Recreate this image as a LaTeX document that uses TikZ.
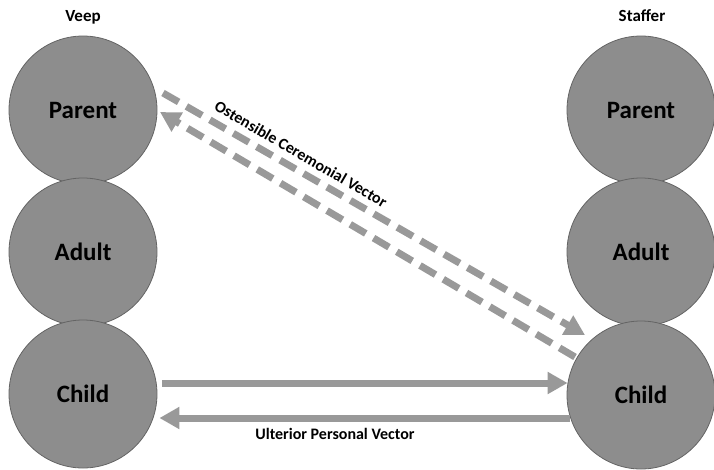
\documentclass[tikz,border=0pt]{standalone}
\usepackage{fontspec}
\setmainfont{Carlito}
\usetikzlibrary{arrows.meta,calc}
\definecolor{egofill}{RGB}{141,141,141}
\definecolor{egoline}{RGB}{100,100,100}
\definecolor{vecgray}{RGB}{153,153,153}
\tikzset{
  ego/.style={circle, minimum size=148pt, inner sep=0pt, fill=egofill,
    draw=egoline, line width=0.8pt, font=\bfseries\fontsize{25}{25}\selectfont},
  role/.style={font=\bfseries\fontsize{17}{17}\selectfont, anchor=base},
  vlabel/.style={font=\bfseries\fontsize{16}{16}\selectfont, inner sep=0pt},
  vec/.style={draw=vecgray, line width=7pt,
    -{Triangle[width=21pt,length=20pt,fill=vecgray]}},
  vecdash/.style={vec, dash pattern=on 18pt off 9pt},
}
\begin{document}
\begin{tikzpicture}[x=1pt,y=-1pt]
\useasboundingbox (0,0) rectangle (714,469);

% role titles
\node[role] (veep) at (83,21) {Veep};
\node[role] (staffer) at (642,21) {Staffer};

% ego states, drawn top to bottom so lower circles overlap upper ones
\node[ego] (lp) at (83,110) {Parent};
\node[ego] (la) at (83,252) {Adult};
\node[ego] (lc) at (83,394) {Child};
\node[ego] (rp) at (641,110) {Parent};
\node[ego] (ra) at (641,252) {Adult};
\node[ego] (rc) at (641,395) {Child};

% ostensible (social) transaction
\draw[vecdash] ($(lp)+(80,-17)$) -- ($(rc)+(-56,-60)$);
\draw[vecdash] ($(rc)+(-66,-38)$) -- ($(lp)+(77,2)$);
\node[vlabel, rotate=-30.2] (ocv) at (301,154) {Ostensible Ceremonial Vector};

% ulterior (psychological) transaction
\draw[vec] ($(lc.east)+(5,-11)$) -- ($(rc.west)+(1,-12)$);
\draw[vec] ($(rc.west)+(3,23)$) -- ($(lc.east)+(2,24)$);
\node[vlabel] (upv) at (335,434) {Ulterior Personal Vector};
\end{tikzpicture}
\end{document}
